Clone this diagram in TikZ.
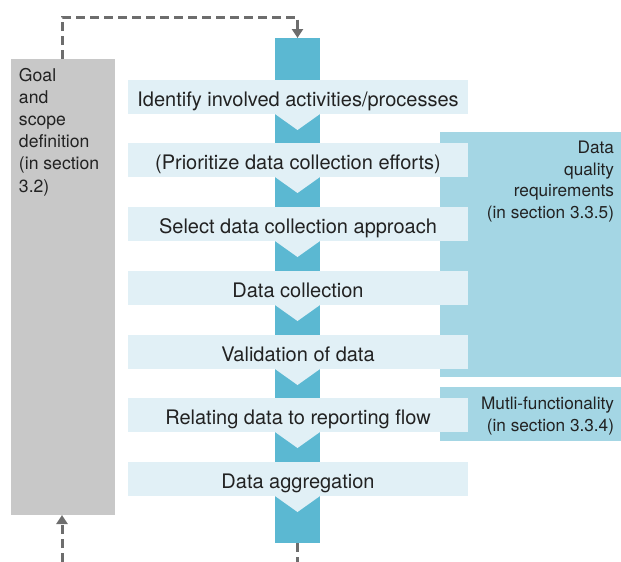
\documentclass[tikz,border=0pt]{standalone}
\usepackage{fontspec}
\setmainfont{TeX Gyre Heros}
\usetikzlibrary{arrows.meta,calc}
\definecolor{colblue}{HTML}{5BB8D2}
\definecolor{lightbox}{HTML}{E1F0F6}
\definecolor{sidebox}{HTML}{A4D6E4}
\definecolor{goalgray}{HTML}{C8C8C8}
\definecolor{dashgray}{HTML}{6D6D6D}
\definecolor{txt}{HTML}{222222}
\begin{document}
\begin{tikzpicture}[x=1pt,y=-1pt,
  every node/.style={inner sep=0pt, outer sep=0pt},
  stepbox/.style={fill=lightbox, minimum width=340pt, minimum height=34pt, anchor=north west,
    text height=20pt, text depth=2pt,
    font=\fontsize{20}{22}\selectfont, text=txt},
  sideboxstyle/.style={fill=sidebox, minimum width=181pt, anchor=north west},
  sidetext/.style={align=right, anchor=north east, text=txt, font=\fontsize{17.2}{21.7}\selectfont},
  goaltext/.style={align=left, anchor=north west, text=txt, font=\fontsize{17.6}{22.2}\selectfont},
  dashline/.style={draw=dashgray, line width=3pt, dash pattern=on 9pt off 5pt},
  tip/.style={-{Triangle[width=11pt,length=9pt]}}]
\useasboundingbox (0,0) rectangle (621,562);

% side boxes
\node[sideboxstyle, minimum height=245pt] (dq) at (440,132) {};
\node[sideboxstyle, minimum height=54pt] (mf) at (440,387) {};
\node[sidetext] (dqt) at (614,141) {Data\\quality\\requirements\\(in section 3.3.5)};
\node[sidetext] (mft) at (614,397) {Mutli-functionality\\(in section 3.3.4)};

% goal box
\node[fill=goalgray, minimum width=104pt, minimum height=456pt, anchor=north west] (goal) at (11,59) {};
\node[goaltext] (goalt) at (19,68) {Goal\\and\\scope\\definition\\(in section\\3.2)};

% blue column
\node[fill=colblue, minimum width=45pt, minimum height=505pt, anchor=north west] (col) at (275,38) {};

% step boxes
\node[stepbox] (s1) at (128,80)  {Identify involved activities/processes};
\node[stepbox] (s2) at (128,143) {(Prioritize data collection efforts)};
\node[stepbox] (s3) at (128,207) {Select data collection approach};
\node[stepbox] (s4) at (128,271) {Data collection};
\node[stepbox] (s5) at (128,335) {Validation of data};
\node[stepbox] (s6) at (128,398) {Relating data to reporting flow};
\node[stepbox] (s7) at (128,462) {Data aggregation};

\foreach \s in {s1,s2,s3,s4,s5,s6,s7}{
  \fill[lightbox] (\s.south -| col.west) -- (\s.south -| col.east) -- ($(\s.south -| col.center)+(0,16)$) -- cycle;
}

% connectors
\coordinate (bl) at (62,562);
\coordinate (br) at (297.5,562);
\draw[dashline, tip] (goal.north -| bl) -- ++(0,-42) -| (col.north);
\draw[dashline] (col.south) -- (br);
\draw[dashline, tip] (bl) -- (goal.south -| bl);
\end{tikzpicture}
\end{document}
